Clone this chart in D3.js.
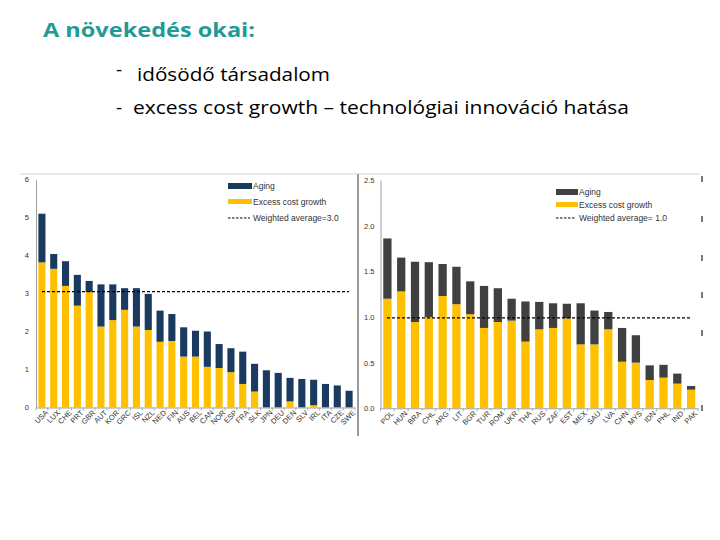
<!DOCTYPE html>
<html><head><meta charset="utf-8">
<script src="https://cdn.jsdelivr.net/npm/d3@7"></script>
<style>body{margin:0;background:#fff}svg{display:block}</style>
</head><body>
<svg id="c" width="720" height="540"></svg>
<script>
// ---- data ----
const leftCountries = ["USA","LUX","CHE","PRT","GBR","AUT","KOR","GRC","ISL","NZL","NED","FIN","AUS","BEL","CAN","NOR","ESP","FRA","SLK","JPN","DEU","DEN","SLV","IRL","ITA","CZE","SWE"];
const leftExcess = [3.82,3.65,3.20,2.68,3.04,2.13,2.30,2.57,2.13,2.04,1.73,1.75,1.34,1.34,1.07,1.04,0.93,0.62,0.42,0,0,0.16,0,0.06,0,0,0];
const leftAging  = [1.28,0.39,0.65,0.81,0.29,1.11,0.94,0.57,1.01,0.95,0.82,0.71,0.77,0.68,0.93,0.63,0.63,0.85,0.73,0.98,0.91,0.62,0.75,0.67,0.62,0.58,0.44];
const leftAverage = 3.05;
const leftTicks = [0,1,2,3,4,5,6];

const rightCountries = ["POL","HUN","BRA","CHL","ARG","LIT","BGR","TUR","ROM","UKR","THA","RUS","ZAF","EST","MEX","SAU","LVA","CHN","MYS","IDN","PHL","IND","PAK"];
const rightExcess = [1.20,1.28,0.945,1.00,1.23,1.14,1.03,0.88,0.945,0.96,0.73,0.865,0.88,0.985,0.70,0.70,0.865,0.51,0.50,0.31,0.336,0.27,0.204];
const rightAging  = [0.66,0.37,0.66,0.60,0.35,0.41,0.36,0.46,0.37,0.24,0.44,0.30,0.27,0.16,0.45,0.37,0.19,0.37,0.30,0.16,0.14,0.11,0.04];
const rightAverage = 0.99;
const rightTicks = [0,0.5,1.0,1.5,2.0,2.5];

const svg = d3.select("#c");

// ---- slide text ----
svg.append("text").attr("x",43).attr("y",37).attr("font-family","Open Sans, sans-serif")
  .attr("font-weight","bold").attr("font-size",20).attr("fill","#1f9a94")
  .attr("textLength",212).attr("lengthAdjust","spacingAndGlyphs").text("A növekedés okai:");
svg.append("text").attr("x",116).attr("y",76).attr("font-family","Open Sans, sans-serif")
  .attr("font-size",19).attr("fill","#000").text("-");
svg.append("text").attr("x",137).attr("y",81).attr("font-family","Open Sans, sans-serif")
  .attr("font-size",19).attr("fill","#000").attr("textLength",193).attr("lengthAdjust","spacingAndGlyphs")
  .text("idősödő társadalom");
svg.append("text").attr("x",116).attr("y",114).attr("font-family","Open Sans, sans-serif")
  .attr("font-size",19).attr("fill","#000").text("-");
svg.append("text").attr("x",133).attr("y",114).attr("font-family","Open Sans, sans-serif")
  .attr("font-size",19).attr("fill","#000").attr("textLength",496).attr("lengthAdjust","spacingAndGlyphs")
  .text("excess cost growth – technológiai innováció hatása");

// frame lines
svg.append("line").attr("x1",20).attr("x2",700).attr("y1",174).attr("y2",174).attr("stroke","#d4d4d4").attr("stroke-width",1);
svg.append("line").attr("x1",358).attr("x2",358).attr("y1",174).attr("y2",436).attr("stroke","#9a9a9a").attr("stroke-width",2);

function chart(cfg){
  const g = svg.append("g");
  const x = d3.scaleBand().domain(cfg.cats).range(cfg.xr).paddingInner(0.4).paddingOuter(0.2);
  const y = d3.scaleLinear().domain(cfg.yd).range(cfg.yr);
  const rows = cfg.cats.map((c,i)=>({c, excess:cfg.excess[i], aging:cfg.aging[i]}));
  const series = d3.stack().keys(["excess","aging"])(rows);
  const colors = {excess:"#ffc000", aging:cfg.agingColor};
  g.selectAll("g.s").data(series).join("g").attr("fill",d=>colors[d.key])
    .selectAll("rect").data(d=>d).join("rect")
    .attr("x",d=>x(d.data.c)).attr("width",x.bandwidth())
    .attr("y",d=>y(d[1])).attr("height",d=>Math.max(0,y(d[0])-y(d[1])));

  // y axis
  const ya = g.append("g").attr("transform",`translate(${cfg.xr[0]},0)`)
    .call(d3.axisLeft(y).tickValues(cfg.ticks).tickFormat(cfg.fmt).tickSize(0).tickPadding(cfg.tp));
  ya.select(".domain").attr("stroke","#a0a0a0");
  ya.selectAll("text").attr("font-family","Liberation Sans, Arial, sans-serif").attr("font-size",7.5).attr("fill","#333");

  // x axis
  const xa = g.append("g").attr("transform",`translate(0,${cfg.yr[0]})`)
    .call(d3.axisBottom(x).tickSize(0).tickPadding(3));
  xa.select(".domain").attr("stroke","#a0a0a0");
  xa.selectAll("text").attr("font-family","Liberation Sans, Arial, sans-serif").attr("font-size",7.5)
    .attr("fill","#333").attr("text-anchor","end").attr("dy","0.3em")
    .attr("transform","translate(3,2) rotate(-45)");
  // ticks between bars
  const step = x.step();
  g.selectAll("line.tk").data(d3.range(cfg.cats.length+1)).join("line")
    .attr("x1",i=>cfg.xr[0]+x.paddingOuter()*step - x.paddingInner()*step/2 + i*step)
    .attr("x2",i=>cfg.xr[0]+x.paddingOuter()*step - x.paddingInner()*step/2 + i*step)
    .attr("y1",cfg.yr[0]).attr("y2",cfg.yr[0]+3).attr("stroke","#a0a0a0").attr("stroke-width",0.8);

  // average line
  g.append("line").attr("x1",cfg.avgX[0]).attr("x2",cfg.avgX[1])
    .attr("y1",y(cfg.avg)).attr("y2",y(cfg.avg))
    .attr("stroke","#000").attr("stroke-width",1.3).attr("stroke-dasharray","3,2");

  // legend
  const L = cfg.legend;
  const lg = g.append("g").attr("font-family","Liberation Sans, Arial, sans-serif").attr("font-size",8.5).attr("fill","#333");
  lg.append("rect").attr("x",L.x).attr("y",L.y[0]-3).attr("width",L.w).attr("height",6).attr("fill",cfg.agingColor);
  lg.append("rect").attr("x",L.x).attr("y",L.y[1]-3).attr("width",L.w).attr("height",5).attr("fill","#ffc000");
  lg.append("line").attr("x1",L.x).attr("x2",L.x+L.w-2).attr("y1",L.y[2]).attr("y2",L.y[2])
    .attr("stroke","#000").attr("stroke-width",1).attr("stroke-dasharray","2.5,1.5");
  L.labels.forEach((t,i)=>lg.append("text").attr("x",L.x+L.w+1).attr("y",L.y[i]+3).text(t));
}

chart({cats:leftCountries, excess:leftExcess, aging:leftAging, agingColor:"#1b3a60",
  xr:[36,355], yd:[0,6], yr:[407.5,179.5], ticks:leftTicks, fmt:d3.format("d"), tp:7,
  avg:leftAverage, avgX:[42,349],
  legend:{x:228, w:24, y:[186,202,218], labels:["Aging","Excess cost growth","Weighted average=3.0"]}});

chart({cats:rightCountries, excess:rightExcess, aging:rightAging, agingColor:"#404040",
  xr:[380.5,698], yd:[0,2.5], yr:[408.3,180], ticks:rightTicks, fmt:d3.format(".1f"), tp:6,
  avg:rightAverage, avgX:[387,690],
  legend:{x:556, w:22, y:[192,205,218], labels:["Aging","Excess cost growth","Weighted average= 1.0"]}});

// cropped neighbouring chart remnants at right edge
[179,219,258,295,333,408].forEach(yy=>svg.append("line").attr("x1",702).attr("x2",702)
  .attr("y1",yy-3).attr("y2",yy+3).attr("stroke","#222").attr("stroke-width",1.2));
</script>
</body></html>
